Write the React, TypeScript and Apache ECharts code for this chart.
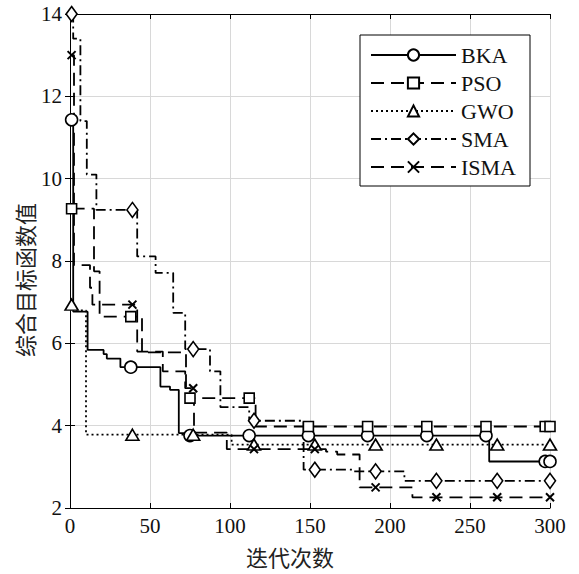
import React, { useEffect, useRef } from "react";
import * as echarts from "echarts";

// ---- data (iteration, best objective) breakpoints of each convergence curve ----
const seriesNames = ["BKA", "PSO", "GWO", "SMA", "ISMA"];

const bkaSteps = [
  [1, 11.43], [2, 6.77], [11, 5.84], [21, 5.74], [23, 5.63], [31.5, 5.42],
  [56.5, 4.95], [62.5, 4.87], [68, 3.82], [71.5, 3.76], [262, 3.13],
];
const psoSteps = [
  [1, 9.27], [15, 7.75], [18.5, 6.65], [45, 5.78], [72.5, 4.67], [116, 3.98],
];
const gwoSteps = [
  [1, 6.94], [2, 6.8], [10, 3.78], [101, 3.54],
];
const smaSteps = [
  [1, 14.0], [2, 13.4], [6.5, 11.4], [10.5, 10.1], [16.5, 9.24], [42, 8.11],
  [53.5, 7.71], [64.5, 6.74], [72, 5.86], [87.5, 5.32], [94, 4.45], [112, 4.12],
  [146, 2.93], [177, 2.89], [209, 2.66],
];
const ismaSteps = [
  [1, 13.0], [2.5, 7.9], [12.5, 7.35], [14, 6.94], [42, 5.8], [58, 5.32],
  [72, 4.91], [77.5, 3.83], [98, 3.43], [160, 3.37], [167, 3.3], [181, 2.5],
  [214, 2.26],
];

// iterations where markers are drawn
const marksEvery37 = [1, 38, 75, 112, 149, 186, 223, 260, 297, 300];
const marksEvery38 = [1, 39, 77, 115, 153, 191, 229, 267, 300];

// axis ticks
const xMin = 0, xMax = 300, xStep = 50;
const yMin = 2, yMax = 14, yStep = 2;

const xLabel = "迭代次数";
const yLabel = "综合目标函数值";

function valueAt(steps: number[][], x: number) {
  let v = steps[0][1];
  for (const [sx, sy] of steps) if (sx <= x) v = sy;
  return v;
}

function buildData(steps: number[][], marks: number[]) {
  const pts: { x: number; y: number; m: boolean }[] = steps.map(([x, y]) => ({ x, y, m: false }));
  for (const m of marks) {
    const hit = pts.find((p) => p.x === m);
    if (hit) hit.m = true;
    else pts.push({ x: m, y: valueAt(steps, m), m: true });
  }
  pts.sort((a, b) => a.x - b.x);
  return pts.map((p) => (p.m ? { value: [p.x, p.y] } : { value: [p.x, p.y], symbol: "none" }));
}

const SERIF = "'Liberation Serif', 'Times New Roman', serif";
const CJK = "'Noto Sans CJK SC', sans-serif";

export default function App() {
  const ref = useRef<HTMLDivElement>(null);
  useEffect(() => {
    if (!ref.current) return;
    const chart = echarts.init(ref.current, undefined, { renderer: "svg" });
    const common = (name: string, steps: number[][], marks: number[], symbol: string, symbolSize: any, dash: any, bw = 1.6) => ({
      name,
      type: "line",
      step: "end",
      data: buildData(steps, marks),
      symbol,
      symbolSize,
      showSymbol: true,
      showAllSymbol: true,
      lineStyle: { color: "#000", width: 1.8, type: dash },
      itemStyle: { color: "#fff", borderColor: "#000", borderWidth: bw },
      emphasis: { disabled: true },
      z: 3,
    });
    const axisLine = { show: true, lineStyle: { color: "#000", width: 1 } };
    const tick = { show: true, inside: true, length: 5, lineStyle: { color: "#000" } };
    chart.setOption({
      animation: false,
      backgroundColor: "#fff",
      grid: { left: 70, right: 29, top: 14, bottom: 66, containLabel: false },
      xAxis: [
        {
          type: "value", min: xMin, max: xMax, interval: xStep, position: "bottom",
          axisLine, axisTick: tick,
          axisLabel: { color: "#111", fontFamily: SERIF, fontSize: 21, margin: 7 },
          splitLine: { show: true, lineStyle: { color: "#d8d8d8", width: 1 } },
        },
        {
          type: "value", min: xMin, max: xMax, interval: xStep, position: "top",
          axisLine, axisTick: tick, axisLabel: { show: false }, splitLine: { show: false },
        },
      ],
      yAxis: [
        {
          type: "value", min: yMin, max: yMax, interval: yStep, position: "left",
          axisLine, axisTick: tick,
          axisLabel: { color: "#111", fontFamily: SERIF, fontSize: 21, margin: 8 },
          splitLine: { show: true, lineStyle: { color: "#d8d8d8", width: 1 } },
        },
        {
          type: "value", min: yMin, max: yMax, interval: yStep, position: "right",
          axisLine, axisTick: tick, axisLabel: { show: false }, splitLine: { show: false },
        },
      ],
      legend: {
        data: seriesNames,
        orient: "vertical",
        left: 360,
        top: 35,
        itemWidth: 85,
        itemHeight: 14,
        itemGap: 6,
        padding: [9, 14, 8, 10],
        backgroundColor: "#fff",
        borderColor: "#000",
        borderWidth: 1,
        textStyle: { color: "#111", fontFamily: SERIF, fontSize: 22 },
      },
      graphic: [
        {
          type: "text", x: 290, y: 556,
          style: { text: xLabel, font: `22px ${CJK}`, fill: "#222", textAlign: "center", textVerticalAlign: "middle" },
        },
        {
          type: "text", x: 24, y: 280, rotation: Math.PI / 2,
          style: { text: yLabel, font: `22px ${CJK}`, fill: "#222", textAlign: "center", textVerticalAlign: "middle" },
        },
      ],
      series: [
        common("BKA", bkaSteps, marksEvery37, "circle", 12, "solid"),
        common("PSO", psoSteps, marksEvery37, "rect", 10, [13, 7]),
        common("GWO", gwoSteps, marksEvery38, "triangle", [13, 11], [2, 3]),
        common("SMA", smaSteps, marksEvery38, "diamond", [11, 15], [10, 4, 2, 4]),
        common("ISMA", ismaSteps, marksEvery38, "path://M0,0L10,10M10,0L0,10", 8, [13, 7], 2),
      ],
    });
    return () => chart.dispose();
  }, []);
  return <div ref={ref} style={{ position: "absolute", left: 0, top: 0, width: 579, height: 574 }} />;
}
